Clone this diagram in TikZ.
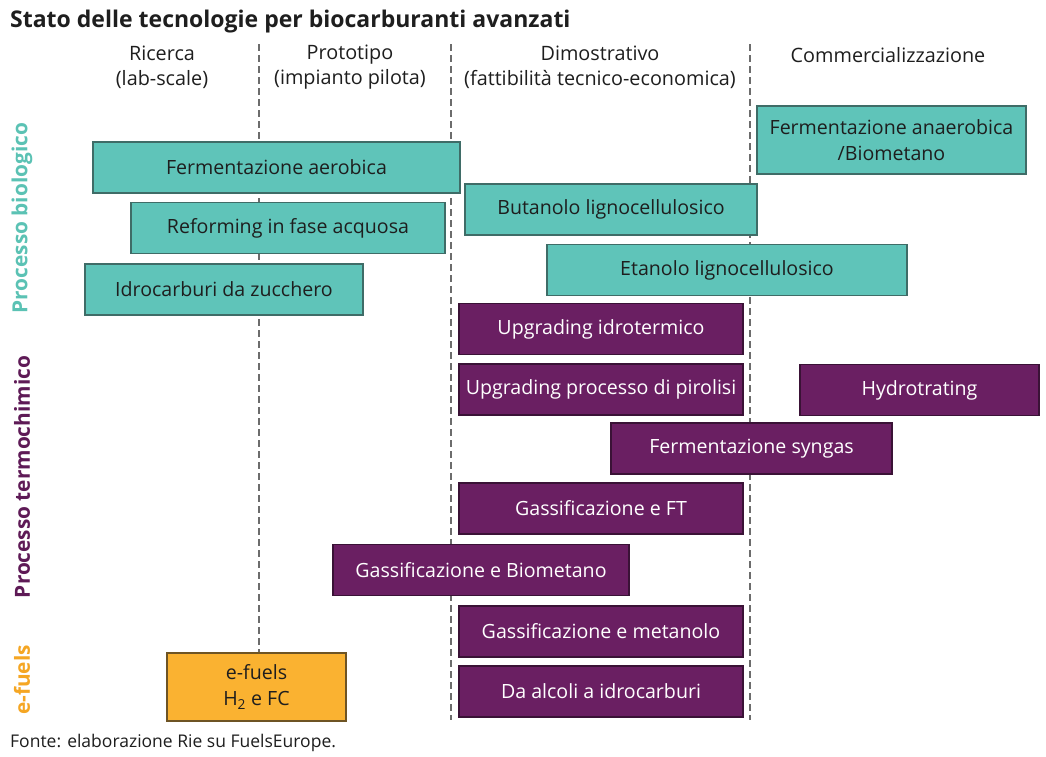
\documentclass[tikz,border=0pt]{standalone}
\usepackage{fontspec}
\setmainfont{Open Sans}
\definecolor{bioF}{HTML}{5FC4B9}
\definecolor{bioD}{HTML}{3F6C67}
\definecolor{bioL}{HTML}{5BC2B4}
\definecolor{thF}{HTML}{6A1F62}
\definecolor{thD}{HTML}{3A1236}
\definecolor{thL}{HTML}{5E1A56}
\definecolor{efF}{HTML}{FAB231}
\definecolor{efD}{HTML}{6E5424}
\definecolor{efL}{HTML}{F5A623}
\definecolor{txt}{HTML}{1E1E1E}
\tikzset{
  boxbase/.style={draw, line width=1.2pt, inner sep=0pt, align=center, minimum height=51pt,
    font=\fontsize{19.6}{26}\selectfont},
  bio/.style={boxbase, fill=bioF, draw=bioD, text=txt},
  thermo/.style={boxbase, fill=thF, draw=thD, text=white},
  efuel/.style={boxbase, fill=efF, draw=efD, text=txt},
  phase/.style={align=center, text=txt, font=\fontsize{19.8}{25}\selectfont},
  sidelabel/.style={rotate=90, font=\bfseries\fontsize{20.8}{24}\selectfont},
  divider/.style={draw=gray!85!black, line width=1.2pt, dash pattern=on 7pt off 4pt}
}
\begin{document}
\begin{tikzpicture}[x=1pt,y=-1pt]
\useasboundingbox[fill=white] (0,0) rectangle (1046,756);
% title
\node[anchor=base west, inner sep=0pt, text=txt, font=\bfseries\fontsize{23}{27}\selectfont] (title) at (10,27) {Stato delle tecnologie per biocarburanti avanzati};
% dividers
\coordinate (d1t) at (259,44); \coordinate (d1b) at (259,653);
\coordinate (d2t) at (451,44); \coordinate (d2b) at (451,720);
\coordinate (d3t) at (750,44); \coordinate (d3b) at (750,720);
\draw[divider] (d1t) -- (d1b);
\draw[divider] (d2t) -- (d2b);
\draw[divider] (d3t) -- (d3b);
% phase headers
\node[phase] (ric) at (162,67.5) {Ricerca\\(lab-scale)};
\node[phase] (pro) at (350,67.5) {Prototipo\\(impianto pilota)};
\node[phase] (dim) at (600,67.5) {Dimostrativo\\(fattibilità tecnico-economica)};
\node[phase] (com) at (888,55) {Commercializzazione};
% side labels
\node[sidelabel, text=bioL] (lbio) at (22,218) {Processo biologico};
\node[sidelabel, text=thL] (lth) at (22,477) {Processo termochimico};
\node[sidelabel, text=efL] (lef) at (22,680) {e-fuels};
% biological
\node[bio, minimum width=269pt, minimum height=68pt] (anaer) at (891.5,140) {Fermentazione anaerobica\\/Biometano};
\node[bio, minimum width=367pt] (aer) at (276.5,167.5) {Fermentazione aerobica};
\node[bio, minimum width=314pt] (ref) at (288,228) {Reforming in fase acquosa};
\node[bio, minimum width=278pt] (idro) at (224,289.5) {Idrocarburi da zucchero};
\node[bio, minimum width=292pt] (but) at (611,209.5) {Butanolo lignocellulosico};
\node[bio, minimum width=360pt] (eta) at (727,270) {Etanolo lignocellulosico};
% thermochemical
\node[thermo, minimum width=284pt] (upi) at (601,329) {Upgrading idrotermico};
\node[thermo, minimum width=284pt] (upp) at (601,389.5) {Upgrading processo di pirolisi};
\node[thermo, minimum width=239pt] (hyd) at (919.5,390) {Hydrotrating};
\node[thermo, minimum width=281pt] (fsy) at (751.5,448.5) {Fermentazione syngas};
\node[thermo, minimum width=284pt] (gft) at (601,508.5) {Gassificazione e FT};
\node[thermo, minimum width=296pt] (gbm) at (481,570) {Gassificazione e Biometano};
\node[thermo, minimum width=284pt] (gme) at (601,631.5) {Gassificazione e metanolo};
\node[thermo, minimum width=284pt] (dal) at (601,691.5) {Da alcoli a idrocarburi};
% e-fuels
\node[efuel, minimum width=179pt, minimum height=68pt] (efu) at (256.5,687) {e-fuels\\H\textsubscript{2} e FC};
% source
\node[anchor=base west, inner sep=0pt, text=txt, font=\fontsize{17.5}{21}\selectfont] (src) at (10,747) {Fonte: elaborazione Rie su FuelsEurope.};
\end{tikzpicture}
\end{document}
